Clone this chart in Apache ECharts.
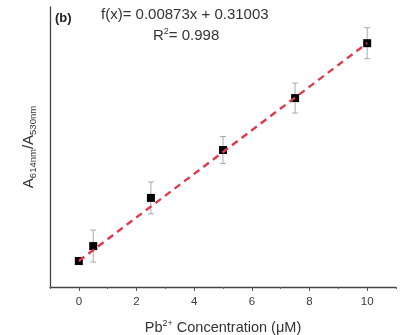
<!DOCTYPE html>
<html>
<head>
<meta charset="utf-8">
<script src="https://cdn.jsdelivr.net/npm/echarts@6/dist/echarts.min.js"></script>
<style>
  html, body { margin: 0; padding: 0; background: #fff; }
  #chart { width: 416px; height: 335px; }
</style>
</head>
<body>
<div id="chart"></div>
<script>
// Pb2+ concentration (µM) and measured absorbance ratio A614/A530
const concentrations = [0, 0.5, 2.5, 5, 7.5, 10];
const ratios = [0.3100, 0.3160, 0.3353, 0.3545, 0.3753, 0.3973];
const errors = [0.0005, 0.0064, 0.0064, 0.0054, 0.0060, 0.0062];

// Linear fit parameters
const slope = 0.00873;
const intercept = 0.31003;
const rSquared = 0.998;
const fitRange = [0, 10];

const majorTicks = [0, 2, 4, 6, 8, 10];
const minorTicks = [-1, 1, 3, 5, 7, 9, 11];

const FONT = '"Liberation Sans", Arial, sans-serif';

const points = concentrations.map((x, i) => [x, ratios[i]]);
const bars = concentrations.map((x, i) => [x, ratios[i] - errors[i], ratios[i] + errors[i]]);
const fitLine = fitRange.map(x => [x, slope * x + intercept]);

const chart = echarts.init(document.getElementById('chart'), null, { renderer: 'canvas' });

chart.setOption({
  animation: false,
  backgroundColor: '#fff',
  grid: { left: 50, right: 20, top: 7, bottom: 48, containLabel: false, outerBoundsMode: 'none' },
  xAxis: [
    {
      type: 'value', min: -1, max: 11,
      axisLine: { show: true, onZero: false, lineStyle: { color: '#444', width: 1.3 } },
      axisTick: { show: true, customValues: majorTicks, length: 4, lineStyle: { color: '#555' } },
      axisLabel: { customValues: majorTicks, color: '#3a3a3a', fontSize: 11.5, fontFamily: FONT, margin: 9 },
      splitLine: { show: false },
      name: '{t|Pb}{sup|2+}{t| Concentration (\u03bcM)}',
      nameLocation: 'middle', nameGap: 32,
      nameTextStyle: {
        rich: {
          t: { fontSize: 14.5, fontFamily: FONT, color: '#333', lineHeight: 18 },
          sup: { fontSize: 9, fontFamily: FONT, color: '#333', verticalAlign: 'top', lineHeight: 18 }
        }
      }
    },
    {
      type: 'value', min: -1, max: 11, position: 'bottom',
      axisLine: { show: false, onZero: false },
      axisTick: { show: true, customValues: minorTicks, length: 2, lineStyle: { color: '#666' } },
      axisLabel: { show: false },
      splitLine: { show: false }
    }
  ],
  yAxis: {
    type: 'value', min: 0.2996, max: 0.4118,
    axisLine: { show: true, onZero: false, lineStyle: { color: '#444', width: 1.3 } },
    axisTick: { show: false },
    axisLabel: { show: false },
    splitLine: { show: false },
    name: '{t|A}{sub|614nm}{t|/A}{sub|530nm}',
    nameLocation: 'middle', nameGap: 12, nameRotate: 90,
    nameTextStyle: {
      rich: {
        t: { fontSize: 15, fontFamily: FONT, color: '#333', lineHeight: 18 },
        sub: { fontSize: 9.5, fontFamily: FONT, color: '#333', verticalAlign: 'bottom', lineHeight: 18 }
      }
    }
  },
  series: [
    {
      type: 'custom',
      name: 'error',
      data: bars,
      z: 1,
      renderItem: function (params, api) {
        const x = api.value(0);
        const lo = api.coord([x, api.value(1)]);
        const hi = api.coord([x, api.value(2)]);
        const cap = 3;
        const style = { stroke: '#aaa', lineWidth: 1 };
        return {
          type: 'group',
          children: [
            { type: 'line', shape: { x1: lo[0], y1: lo[1], x2: hi[0], y2: hi[1] }, style },
            { type: 'line', shape: { x1: lo[0] - cap, y1: lo[1], x2: lo[0] + cap, y2: lo[1] }, style },
            { type: 'line', shape: { x1: hi[0] - cap, y1: hi[1], x2: hi[0] + cap, y2: hi[1] }, style }
          ]
        };
      }
    },
    {
      type: 'line',
      name: 'fit',
      data: fitLine,
      showSymbol: false,
      z: 3,
      lineStyle: { color: '#e2384b', width: 2.4, type: [7, 5] }
    },
    {
      type: 'scatter',
      name: 'data',
      data: points,
      symbol: 'rect',
      symbolSize: 8,
      z: 2,
      itemStyle: { color: '#000', opacity: 1 }
    }
  ],
  graphic: [
    {
      type: 'text', left: 55, top: 12,
      style: { text: '(b)', font: 'bold 13px ' + FONT, fill: '#222' }
    },
    {
      type: 'text', left: 101, top: 7,
      style: { text: 'f(x)= ' + slope + 'x + ' + intercept.toFixed(5), font: '15px ' + FONT, fill: '#333' }
    },
    {
      type: 'text', left: 153, top: 27,
      style: {
        text: '{t|R}{sup|2}{t|= ' + rSquared + '}',
        rich: {
          t: { font: '15px ' + FONT, fill: '#333', lineHeight: 18 },
          sup: { font: '9px ' + FONT, fill: '#333', verticalAlign: 'top', lineHeight: 18 }
        }
      }
    }
  ]
});
</script>
</body>
</html>
